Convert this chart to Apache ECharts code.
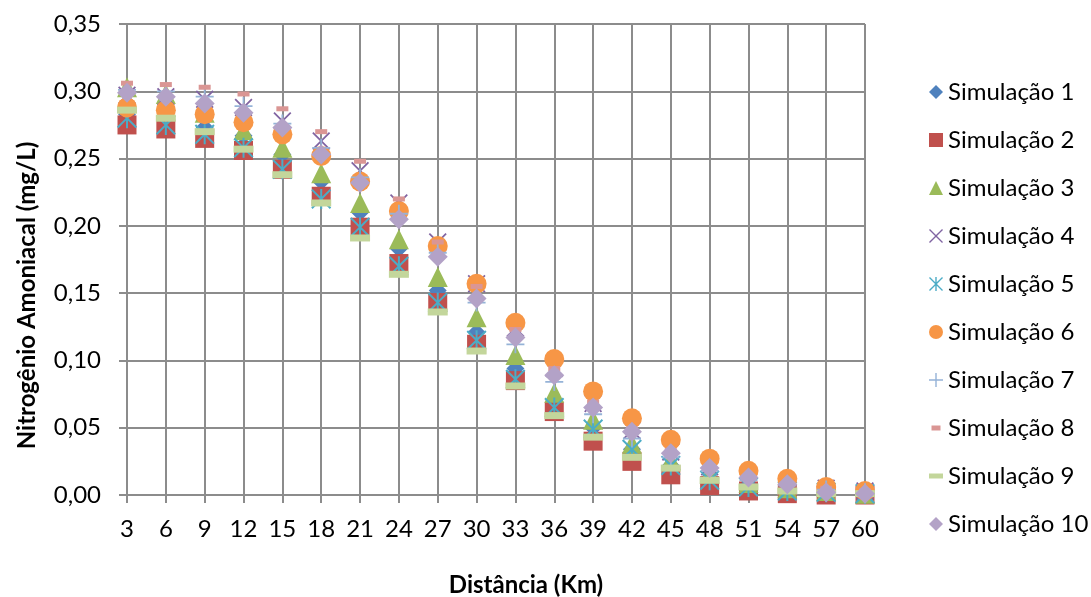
<!DOCTYPE html>
<html>
<head>
<meta charset="utf-8">
<script src="https://cdn.jsdelivr.net/npm/echarts@6/dist/echarts.min.js"></script>
<style>
  html, body { margin: 0; padding: 0; background: #fff; }
  #chart { width: 1091px; height: 597px; }
</style>
</head>
<body>
<div id="chart"></div>
<script>
// Distance along the river (km)
const distances = [3, 6, 9, 12, 15, 18, 21, 24, 27, 30, 33, 36, 39, 42, 45, 48, 51, 54, 57, 60];

// Ammonia nitrogen (mg/L) for each simulation run
const sim1  = [0.283, 0.280, 0.273, 0.267, 0.253, 0.233, 0.210, 0.183, 0.152, 0.121, 0.094, 0.068, 0.050, 0.034, 0.022, 0.013, 0.007, 0.004, 0.002, 0.001];
const sim2  = [0.275, 0.272, 0.265, 0.256, 0.242, 0.222, 0.199, 0.172, 0.143, 0.112, 0.085, 0.062, 0.040, 0.025, 0.015, 0.007, 0.003, 0.001, 0.000, 0.000];
const sim3  = [0.303, 0.298, 0.284, 0.271, 0.258, 0.239, 0.217, 0.190, 0.162, 0.132, 0.104, 0.076, 0.056, 0.038, 0.026, 0.016, 0.009, 0.005, 0.003, 0.001];
const sim4  = [0.297, 0.296, 0.294, 0.288, 0.278, 0.263, 0.241, 0.217, 0.188, 0.157, 0.124, 0.094, 0.068, 0.048, 0.032, 0.021, 0.013, 0.008, 0.005, 0.003];
const sim5  = [0.280, 0.275, 0.268, 0.258, 0.242, 0.220, 0.199, 0.170, 0.143, 0.115, 0.086, 0.065, 0.049, 0.034, 0.022, 0.011, 0.006, 0.003, 0.002, 0.001];
const sim6  = [0.288, 0.286, 0.283, 0.277, 0.268, 0.252, 0.233, 0.211, 0.185, 0.157, 0.128, 0.101, 0.077, 0.057, 0.041, 0.027, 0.018, 0.012, 0.006, 0.003];
const sim7  = [0.301, 0.300, 0.296, 0.289, 0.276, 0.258, 0.236, 0.209, 0.180, 0.143, 0.112, 0.084, 0.060, 0.042, 0.028, 0.018, 0.011, 0.007, 0.004, 0.002];
const sim8  = [0.306, 0.305, 0.303, 0.298, 0.287, 0.270, 0.248, 0.220, 0.188, 0.155, 0.123, 0.094, 0.069, 0.049, 0.033, 0.021, 0.013, 0.008, 0.005, 0.003];
const sim9  = [0.286, 0.280, 0.270, 0.257, 0.238, 0.217, 0.191, 0.164, 0.136, 0.107, 0.081, 0.059, 0.043, 0.028, 0.020, 0.011, 0.006, 0.003, 0.001, 0.001];
const sim10 = [0.299, 0.296, 0.291, 0.284, 0.273, 0.253, 0.232, 0.205, 0.177, 0.146, 0.117, 0.089, 0.065, 0.047, 0.031, 0.020, 0.013, 0.008, 0.002, 0.001];

const seriesNames = ['Simulação 1', 'Simulação 2', 'Simulação 3', 'Simulação 4', 'Simulação 5',
                     'Simulação 6', 'Simulação 7', 'Simulação 8', 'Simulação 9', 'Simulação 10'];
const seriesValues = [sim1, sim2, sim3, sim4, sim5, sim6, sim7, sim8, sim9, sim10];

// Axis ranges and tick steps
const xMin = 3, xMax = 60, xStep = 3;
const yMin = 0, yMax = 0.35, yStep = 0.05;

// Marker shapes (filled outlines so they render the same in the legend)
const crossPath = 'path://M0,1.4L1.4,0L10,8.6L18.6,0L20,1.4L11.4,10L20,18.6L18.6,20L10,11.4L1.4,20L0,18.6L8.6,10Z';
const starPath = 'path://M0,1.4L1.4,0L10,8.6L18.6,0L20,1.4L11.4,10L20,18.6L18.6,20L10,11.4L1.4,20L0,18.6L8.6,10Z M9,0L11,0L11,20L9,20Z';
const plusPath = 'path://M9,0L11,0L11,9L20,9L20,11L11,11L11,20L9,20L9,11L0,11L0,9L9,9Z';

const markerStyles = [
  { symbol: 'diamond',  size: 18,      color: '#4F81BD' },
  { symbol: 'rect',     size: 19,      color: '#C0504D' },
  { symbol: 'triangle', size: 20,      color: '#9BBB59' },
  { symbol: crossPath,  size: 18,      color: '#8064A2' },
  { symbol: starPath,   size: 20,      color: '#4BACC6' },
  { symbol: 'circle',   size: 20,      color: '#F79646' },
  { symbol: plusPath,   size: 18,      color: '#95B3D7' },
  { symbol: 'rect',     size: [12, 5], color: '#DA9694' },
  { symbol: 'rect',     size: [20, 7], color: '#C3D69B' },
  { symbol: 'diamond',  size: 20,      color: '#B3A2C7' }
];

const legendIcons = [
  'diamond', 'rect', 'triangle', crossPath, starPath, 'circle', plusPath,
  'path://M0,0M14,14M2.5,4.5L11.5,4.5L11.5,9.5L2.5,9.5Z',
  'path://M0,0M14,14M0,4.5L14,4.5L14,9.5L0,9.5Z',
  'diamond'
];

const gridColor = '#8c8c8c';
const fontFamily = 'Lato, "Open Sans", sans-serif';

const series = seriesNames.map((name, i) => ({
  name: name,
  type: 'scatter',
  symbol: markerStyles[i].symbol,
  symbolSize: markerStyles[i].size,
  itemStyle: { color: markerStyles[i].color, opacity: 1 },
  emphasis: { disabled: true },
  data: distances.map((d, j) => [d, seriesValues[i][j]])
}));

const chart = echarts.init(document.getElementById('chart'), null, { renderer: 'canvas' });
chart.setOption({
  animation: false,
  backgroundColor: '#ffffff',
  textStyle: { fontFamily: fontFamily },
  grid: {
    left: 127, right: 226, top: 24, bottom: 102,
    containLabel: false,
    outerBoundsMode: 'none'
  },
  legend: {
    orient: 'vertical',
    left: 924,
    top: 73,
    itemWidth: 14,
    itemHeight: 14,
    itemGap: 20,
    selectedMode: false,
    textStyle: { fontSize: 24, color: '#000', fontFamily: fontFamily, lineHeight: 28 },
    data: seriesNames.map((n, i) => ({ name: n, icon: legendIcons[i] }))
  },
  xAxis: {
    type: 'value',
    min: xMin, max: xMax, interval: xStep,
    name: 'Distância (Km)',
    nameLocation: 'middle',
    nameGap: 78,
    nameTextStyle: { fontSize: 24, fontWeight: 'bold', color: '#000', fontFamily: fontFamily, padding: [0, 0, 0, 60] },
    axisLine: { show: true, lineStyle: { color: gridColor, width: 2 } },
    axisTick: { show: true, length: 8, lineStyle: { color: gridColor, width: 2 } },
    axisLabel: { fontSize: 24, color: '#000', margin: 22, fontFamily: fontFamily },
    splitLine: { show: true, lineStyle: { color: gridColor, width: 2 } }
  },
  yAxis: {
    type: 'value',
    min: yMin, max: yMax, interval: yStep,
    name: 'Nitrogênio Amoniacal (mg/L)',
    nameLocation: 'middle',
    nameGap: 88,
    nameTextStyle: { fontSize: 24, fontWeight: 'bold', color: '#000', fontFamily: fontFamily, padding: [0, 72, 0, 0] },
    axisLine: { show: true, lineStyle: { color: gridColor, width: 2 } },
    axisTick: { show: true, length: 8, lineStyle: { color: gridColor, width: 2 } },
    axisLabel: {
      fontSize: 24, color: '#000', margin: 26, fontFamily: fontFamily,
      formatter: v => v.toFixed(2).replace('.', ',')
    },
    splitLine: { show: true, lineStyle: { color: gridColor, width: 2 } }
  },
  series: series
});
</script>
</body>
</html>
